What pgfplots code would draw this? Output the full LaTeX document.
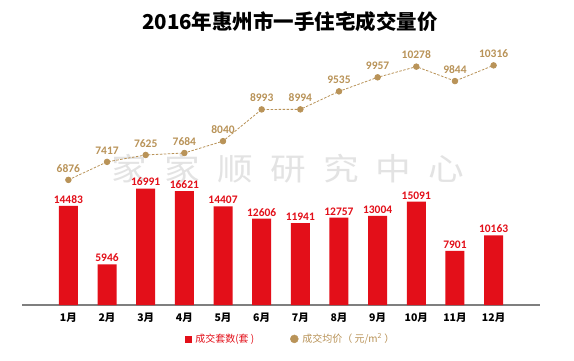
\documentclass[border=0pt]{standalone}
\usepackage{pgfplots}
\pgfplotsset{compat=1.18}
\usepackage{fontspec}
\setmainfont{Carlito}
\newfontfamily\cjk{Noto Sans CJK SC}
\definecolor{barred}{HTML}{E30F19}
\definecolor{gold}{HTML}{B99358}
\definecolor{wm}{HTML}{E3E3E3}
\definecolor{axgrey}{HTML}{7F7F7F}
\begin{document}
\begin{tikzpicture}
\useasboundingbox (0pt,0pt) rectangle (574pt,360pt);
\fill[white] (0pt,0pt) rectangle (574pt,360pt);
\node[font=\cjk\bfseries\fontsize{20.5}{24}\selectfont] at (290pt,338pt) {2016年惠州市一手住宅成交量价};
\node[text=wm, inner sep=0pt, xscale=1.15, font=\cjk\fontsize{31}{33}\selectfont] at (288pt,191pt) {家\hspace{15pt}家\hspace{15pt}顺\hspace{15pt}研\hspace{15pt}究\hspace{15pt}中\hspace{15pt}心};
\begin{axis}[at={(22pt,55pt)}, anchor=south west, scale only axis,
  width=518pt, height=265pt, xmin=-1.2, xmax=12.2, ymin=0, ymax=38686,
  axis x line=bottom, axis y line=none, axis line style={-, draw=axgrey, line width=1.5pt},
  xtick={0,...,11}, xticklabels={1月,2月,3月,4月,5月,6月,7月,8月,9月,10月,11月,12月},
  xticklabel style={font=\cjk\bfseries\fontsize{10.5}{12}\selectfont, yshift=-4pt},
  major tick length=0pt, ytick=\empty, clip=false,
  /pgf/number format/.cd, fixed, precision=0, 1000 sep={}, assume math mode=true]
\addplot[ybar, bar width=19pt, fill=barred, draw=none, nodes near coords,
  nodes near coords style={text=barred, font=\bfseries\fontsize{11.5}{13}\selectfont, yshift=-1pt}]
  coordinates {(0,14483) (1,5946) (2,16991) (3,16621) (4,14407) (5,12606) (6,11941) (7,12757) (8,13004) (9,15091) (10,7901) (11,10163)};
\end{axis}
\begin{axis}[at={(22pt,55pt)}, anchor=south west, scale only axis,
  width=518pt, height=265pt, xmin=-1.2, xmax=12.2, ymin=3118, ymax=11078,
  axis lines=none, clip=false,
  legend style={at={(0.519,-0.128)}, anchor=center, draw=none, fill=none, legend columns=2,
    font=\cjk\fontsize{10}{12}\selectfont, /tikz/every even column/.append style={column sep=34pt},
    /tikz/every odd column/.append style={column sep=2pt}},
  legend image code/.code={\draw[#1] plot coordinates {(0pt,0pt)};},
  /pgf/number format/.cd, fixed, precision=0, 1000 sep={}, assume math mode=true]
\addplot[gold, line width=0.8pt, dash pattern=on 2.5pt off 1.5pt, mark=*, mark size=2.8pt,
  mark options={solid, fill=gold, draw=gold}, nodes near coords,
  nodes near coords style={text=gold, font=\bfseries\fontsize{11.5}{13}\selectfont, yshift=4pt}, forget plot]
  coordinates {(0,6876) (1,7417) (2,7625) (3,7684) (4,8040) (5,8993) (6,8994) (7,9535) (8,9957) (9,10278) (10,9844) (11,10316)};
\addlegendimage{only marks, mark=square*, mark size=3pt, barred}
\addlegendentry{\textcolor{barred}{成交套数(套 )}}
\addlegendimage{only marks, mark=*, mark size=4pt, gold}
\addlegendentry{\textcolor{gold}{成交均价（ 元/m\textsuperscript{2} ）}}
\end{axis}
\end{tikzpicture}
\end{document}
